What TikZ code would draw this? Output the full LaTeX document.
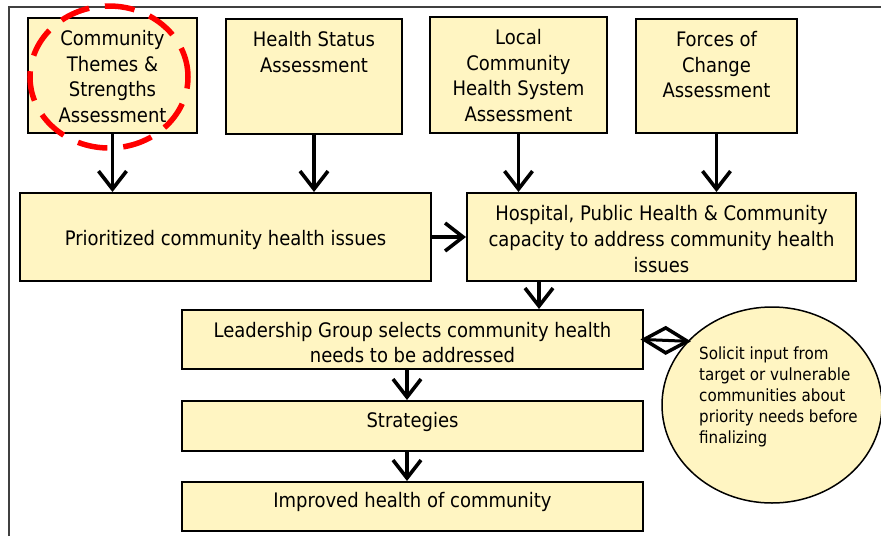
\documentclass[tikz,border=0pt]{standalone}
\usepackage{fontspec}
\setmainfont{DejaVu Sans Condensed}
\usetikzlibrary{arrows.meta,shapes.geometric,calc}
\definecolor{boxfill}{HTML}{FFF5C2}
\begin{document}
\begin{tikzpicture}[x=1pt,y=-1pt,
  box/.style={draw=black, line width=2pt, fill=boxfill, inner sep=0pt},
  btxt/.style={align=center, font=\fontsize{20}{25.7}\selectfont, inner sep=0pt},
  arr/.style={line width=3.6pt, -{Straight Barb[length=18pt,width=28pt]}}]
\useasboundingbox (0,0) rectangle (881,536);
\draw[line width=2pt, black!75] (9,536) -- (9,7) -- (881,7);
% top boxes
\node[box, minimum width=169pt, minimum height=115pt] (A) at (112.5,75.5) {};
\node[box, minimum width=176pt, minimum height=115pt] (B) at (314,76.5) {};
\node[box, minimum width=177pt, minimum height=116pt] (C) at (518.5,75) {};
\node[box, minimum width=161pt, minimum height=114pt] (D) at (716.5,76) {};
\node[btxt, anchor=north] (At) at ([yshift=-13pt]A.north) {Community\\Themes \&\\Strengths\\Assessment};
\node[btxt, anchor=north] (Bt) at ([yshift=-13pt]B.north) {Health Status\\Assessment};
\node[btxt, anchor=north] (Ct) at ([yshift=-13pt]C.north) {Local\\Community\\Health System\\Assessment};
\node[btxt, anchor=north] (Dt) at ([yshift=-13pt]D.north) {Forces of\\Change\\Assessment};
% middle boxes
\node[box, minimum width=411pt, minimum height=88pt] (E) at (225.5,237) {};
\node[btxt] (Et) at ([yshift=-3pt]E.center) {Prioritized community health issues};
\node[box, minimum width=389pt, minimum height=88pt] (F) at (661.5,237) {};
\node[btxt] (Ft) at ([yshift=-2pt]F.center) {Hospital, Public Health \& Community\\capacity to address community health\\issues};
\node[box, minimum width=461pt, minimum height=59pt] (G) at (412.5,339.5) {};
\node[btxt] (Gt) at ([yshift=-3pt]G.center) {Leadership Group selects community health\\needs to be addressed};
\node[box, minimum width=461pt, minimum height=50pt] (H) at (412.5,426) {};
\node[btxt] (Ht) at ([yshift=4pt]H.center) {Strategies};
\node[box, minimum width=461pt, minimum height=49pt] (I) at (412.5,506.5) {};
\node[btxt] (It) at ([yshift=5pt]I.center) {Improved health of community};
% ellipse
\node[ellipse, draw=black, line width=1.5pt, fill=boxfill, minimum width=220pt, minimum height=196pt, inner sep=0pt] (J) at (772,405) {};
\node[anchor=west, align=left, inner sep=0pt, font=\fontsize{16.8}{21}\selectfont] (Jt) at (699,397) {Solicit input from\\target or vulnerable\\communities about\\priority needs before\\finalizing};
% arrows
\draw[arr] (A.south) -- (A.south |- E.north);
\draw[arr] (B.south) -- (B.south |- E.north);
\draw[arr] (C.south) -- (C.south |- F.north);
\draw[arr] (D.south) -- (D.south |- F.north);
\draw[arr] (E.east) -- (F.west);
\draw[arr] ([xshift=73pt]F.south west) -- ([xshift=73pt]F.south west |- G.north);
\draw[arr] ([xshift=-5.5pt]G.south) -- ([xshift=-5.5pt]H.north);
\draw[arr] ([xshift=-5.5pt]H.south) -- ([xshift=-5.5pt]I.north);
% diamond connector
\coordinate (dmc) at ($(G.east)!0.5!(J.143)$);
\draw[line width=3.5pt, line join=miter, fill=white] (G.east) -- ([yshift=12.5pt]dmc) -- (J.143) -- ([yshift=-12.5pt]dmc) -- cycle;
\draw[line width=3pt] (G.east) -- (J.143);
% red highlight
\node[ellipse, draw=red, line width=5.5pt, dash pattern=on 30pt off 16pt, minimum width=158pt, minimum height=142pt, inner sep=0pt] (hl) at (109,77) {};
\end{tikzpicture}
\end{document}
